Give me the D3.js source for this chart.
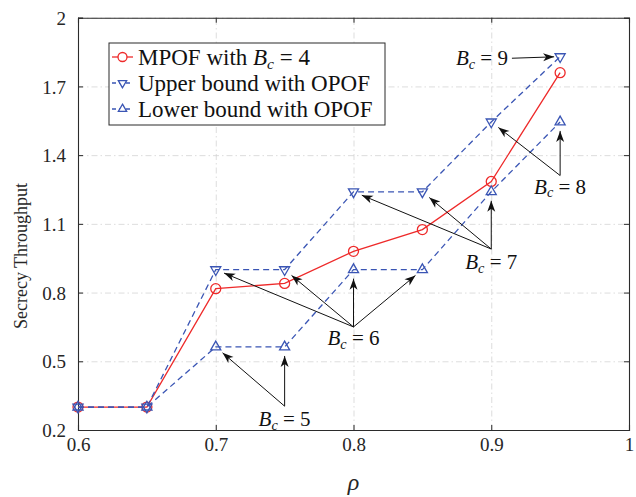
<!DOCTYPE html>
<html>
<head>
<meta charset="utf-8">
<script src="https://cdn.jsdelivr.net/npm/d3@7/dist/d3.min.js"></script>
<style>
  html, body { margin: 0; padding: 0; background: #fff; }
  svg { display: block; }
  text { white-space: pre; }
</style>
</head>
<body>
<svg id="chart" width="636" height="497"></svg>
<script>
// Secrecy throughput versus rho
const rho = [0.6, 0.65, 0.7, 0.75, 0.8, 0.85, 0.9, 0.95];
const mpof = [0.3, 0.3, 0.817, 0.84, 0.98, 1.075, 1.285, 1.76];
const upperOpof = [0.3, 0.3, 0.9, 0.9, 1.24, 1.24, 1.545, 1.83];
const lowerOpof = [0.3, 0.3, 0.5625, 0.5625, 0.9, 0.9, 1.24, 1.545];

const xTicks = [0.6, 0.7, 0.8, 0.9, 1];
const yTicks = [0.2, 0.5, 0.8, 1.1, 1.4, 1.7, 2];

const legendLabels = ["MPOF with ", "Upper bound with OPOF", "Lower bound with OPOF"];

// Annotations: B_c value, label anchor (data units), and the points they point to
const annoBc = [5, 6, 7, 8, 9];
const annoFrom = [[0.75, 0.304], [0.8, 0.65], [0.9, 0.99], [0.95, 1.311], [0.915, 1.823]];
const annoTargets = [
  [["lower", 2], ["lower", 3]],
  [["upper", 2], ["upper", 3], ["lower", 4], ["lower", 5]],
  [["upper", 4], ["upper", 5], ["lower", 6]],
  [["upper", 6], ["lower", 7]],
  [["upper", 7]]
];

const RED = "#ee2a2a";
const BLUE = "#3a55b4";
const SERIF = "'Liberation Serif', Tinos, 'Nimbus Roman', 'DejaVu Serif', serif";

const svg = d3.select("#chart");
const mLeft = 78, mRight = 629, mTop = 17.7, mBottom = 430;
const x = d3.scaleLinear().domain([0.6, 1]).range([mLeft, mRight]);
const y = d3.scaleLinear().domain([0.2, 2]).range([mBottom, mTop]);

// grid
const grid = svg.append("g").attr("class", "grid");
grid.append("g").attr("transform", `translate(0,${mBottom})`)
  .call(d3.axisBottom(x).tickValues(xTicks).tickSize(-(mBottom - mTop)).tickFormat(""));
grid.append("g").attr("transform", `translate(${mLeft},0)`)
  .call(d3.axisLeft(y).tickValues(yTicks).tickSize(-(mRight - mLeft)).tickFormat(""));
grid.selectAll(".domain").remove();
grid.selectAll("line").attr("stroke", "#d4d4d4").attr("stroke-width", 0.8)
  .attr("stroke-dasharray", "6,3,1.5,3");

// axes with inward ticks on all sides
const fmt = d3.format("~g");
const axB = svg.append("g").attr("transform", `translate(0,${mBottom})`)
  .call(d3.axisBottom(x).tickValues(xTicks).tickSize(-5).tickPadding(8).tickFormat(fmt));
const axL = svg.append("g").attr("transform", `translate(${mLeft},0)`)
  .call(d3.axisLeft(y).tickValues(yTicks).tickSize(-5).tickPadding(12).tickFormat(fmt));
const axT = svg.append("g").attr("transform", `translate(0,${mTop})`)
  .call(d3.axisTop(x).tickValues(xTicks).tickSize(-5).tickFormat(""));
const axR = svg.append("g").attr("transform", `translate(${mRight},0)`)
  .call(d3.axisRight(y).tickValues(yTicks).tickSize(-5).tickFormat(""));
[axB, axL, axT, axR].forEach(a => {
  a.attr("font-family", SERIF).attr("font-size", 19);
  a.selectAll(".domain").attr("stroke", "#2b2b2b").attr("stroke-width", 1.1);
  a.selectAll(".tick line").attr("stroke", "#2b2b2b").attr("stroke-width", 1);
  a.selectAll("text").attr("fill", "#262626");
});
axB.selectAll(".tick text").attr("dy", "0.71em");
axL.selectAll(".tick text").attr("dy", "0.35em");

// axis titles
svg.append("text").attr("transform", `translate(27,256) rotate(-90)`)
  .attr("text-anchor", "middle").attr("font-family", SERIF).attr("font-size", 18)
  .attr("fill", "#262626").text("Secrecy Throughput");
svg.append("text").attr("x", (mLeft + mRight) / 2).attr("y", 490)
  .attr("text-anchor", "middle").attr("font-family", SERIF).attr("font-size", 24)
  .attr("font-style", "italic").attr("fill", "#262626").text("ρ");

// series
const pts = vals => rho.map((r, i) => [x(r), y(vals[i])]);
const line = d3.line();
const tri = d3.symbol(d3.symbolTriangle, 44);

svg.append("path").attr("d", line(pts(mpof))).attr("fill", "none")
  .attr("stroke", RED).attr("stroke-width", 1.3);
svg.append("g").selectAll("circle").data(pts(mpof)).join("circle")
  .attr("cx", d => d[0]).attr("cy", d => d[1]).attr("r", 5)
  .attr("fill", "none").attr("stroke", RED).attr("stroke-width", 1.3);

svg.append("path").attr("d", line(pts(upperOpof))).attr("fill", "none")
  .attr("stroke", BLUE).attr("stroke-width", 1.3).attr("stroke-dasharray", "6,4");
svg.append("g").selectAll("path").data(pts(upperOpof)).join("path")
  .attr("d", tri()).attr("transform", d => `translate(${d[0]},${d[1]}) rotate(180)`)
  .attr("fill", "none").attr("stroke", BLUE).attr("stroke-width", 1.3);

svg.append("path").attr("d", line(pts(lowerOpof))).attr("fill", "none")
  .attr("stroke", BLUE).attr("stroke-width", 1.3).attr("stroke-dasharray", "6,4");
svg.append("g").selectAll("path").data(pts(lowerOpof)).join("path")
  .attr("d", tri()).attr("transform", d => `translate(${d[0]},${d[1]})`)
  .attr("fill", "none").attr("stroke", BLUE).attr("stroke-width", 1.3);

// arrowhead
svg.append("defs").append("marker").attr("id", "arrow")
  .attr("viewBox", "-12 -6 14 12").attr("refX", 0).attr("refY", 0)
  .attr("markerWidth", 14).attr("markerHeight", 12).attr("markerUnits", "userSpaceOnUse")
  .attr("orient", "auto")
  .append("path").attr("d", "M0,0 L-11,-4 L-8,0 L-11,4 Z").attr("fill", "#111");

// math label helper: B_c = n
function mathLabel(sel, n, size) {
  sel.append("tspan").attr("font-style", "italic").text("B");
  sel.append("tspan").attr("font-style", "italic").attr("font-size", size * 0.68)
    .attr("dy", size * 0.18).text("c");
  sel.append("tspan").attr("dy", -size * 0.18).text(" = " + n);
}

const series = { upper: upperOpof, lower: lowerOpof };
const annoText = [
  { anchor: "middle", dx: 0, dy: 20 },
  { anchor: "middle", dx: 0, dy: 18 },
  { anchor: "middle", dx: 0, dy: 20 },
  { anchor: "middle", dx: 0, dy: 18 },
  { anchor: "end", dx: -4, dy: 7 }
];
annoBc.forEach((bc, k) => {
  const ox = x(annoFrom[k][0]), oy = y(annoFrom[k][1]);
  annoTargets[k].forEach(([s, i]) => {
    const tx = x(rho[i]), ty = y(series[s][i]);
    const dx = tx - ox, dy = ty - oy, len = Math.hypot(dx, dy);
    const gap = k === 4 ? 6 : 9;
    svg.append("line").attr("x1", ox).attr("y1", oy)
      .attr("x2", tx - dx / len * gap).attr("y2", ty - dy / len * gap)
      .attr("stroke", "#111").attr("stroke-width", 1).attr("marker-end", "url(#arrow)");
  });
  const t = svg.append("text").attr("x", ox + annoText[k].dx).attr("y", oy + annoText[k].dy)
    .attr("text-anchor", annoText[k].anchor).attr("font-family", SERIF)
    .attr("font-size", 21).attr("fill", "#111");
  mathLabel(t, bc, 21);
});

// legend
const lg = svg.append("g").attr("transform", "translate(109,43)");
lg.append("rect").attr("width", 276).attr("height", 82)
  .attr("fill", "#fff").attr("stroke", "#2b2b2b").attr("stroke-width", 1);
const legendColors = [RED, BLUE, BLUE];
legendLabels.forEach((lab, i) => {
  const cy = 14 + i * 26;
  const row = lg.append("g").attr("transform", `translate(0,${cy})`);
  row.append("line").attr("x1", 3).attr("x2", 24).attr("stroke", legendColors[i])
    .attr("stroke-width", 1.3).attr("stroke-dasharray", i === 0 ? null : "4,3");
  if (i === 0) {
    row.append("circle").attr("cx", 13.5).attr("r", 4.5).attr("fill", "#fff")
      .attr("stroke", RED).attr("stroke-width", 1.3);
  } else {
    row.append("path").attr("d", d3.symbol(d3.symbolTriangle, 30)())
      .attr("transform", `translate(13.5,0) rotate(${i === 1 ? 180 : 0})`)
      .attr("fill", "#fff").attr("stroke", BLUE).attr("stroke-width", 1.3);
  }
  const t = row.append("text").attr("x", 29).attr("y", 7.5).attr("font-family", SERIF)
    .attr("font-size", 23).attr("fill", "#111");
  if (i === 0) {
    t.append("tspan").text(lab);
    mathLabel(t, 4, 23);
  } else {
    t.text(lab);
  }
});
</script>
</body>
</html>
